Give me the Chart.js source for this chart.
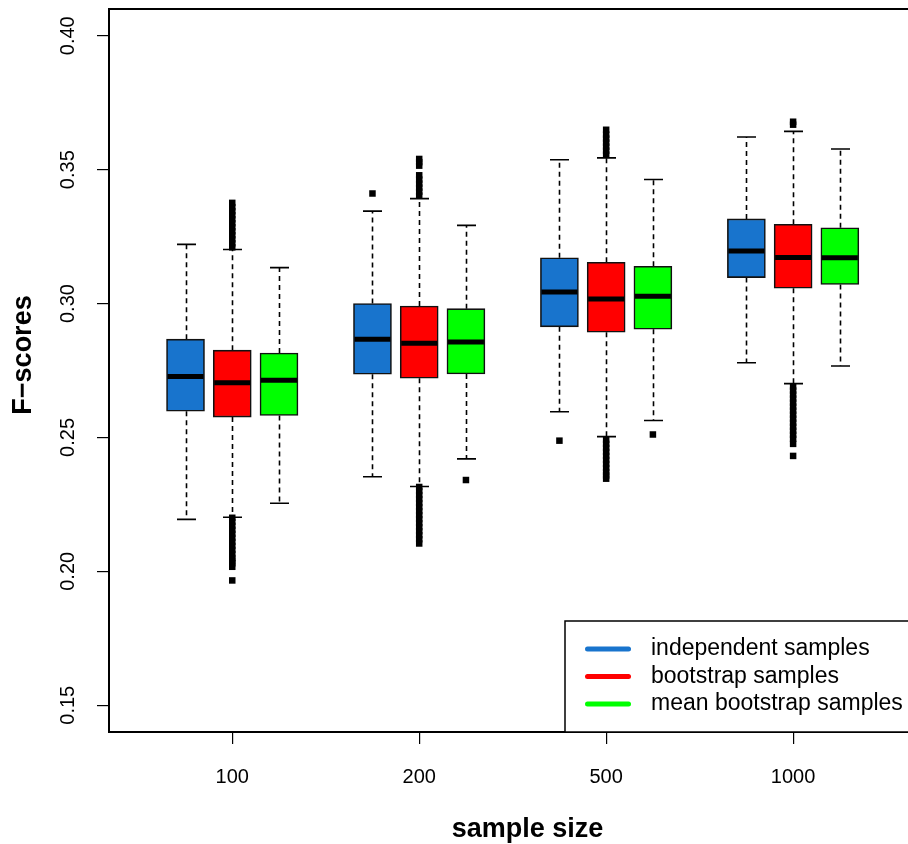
<!DOCTYPE html>
<html>
<head>
<meta charset="utf-8">
<script src="https://cdn.jsdelivr.net/npm/chart.js@4.4.1/dist/chart.umd.min.js"></script>
<style>
  html, body { margin: 0; padding: 0; background: #fff; overflow: hidden; }
  canvas { display: block; }
</style>
</head>
<body>
<canvas id="boxChart" width="954" height="844"></canvas>
<script>
const sampleSizes = ["100", "200", "500", "1000"];
const seriesNames = ["independent samples", "bootstrap samples", "mean bootstrap samples"];
const seriesColors = ["#1874CD", "#FF0000", "#00FF00"];

// x positions: three boxes per sample size, one empty slot between groups
const groupCenters = [2, 6, 10, 14];
const boxOffsets = [-1, 0, 1];
const yTicks = [0.15, 0.20, 0.25, 0.30, 0.35, 0.40];

// independent samples
const indLow = [0.2194, 0.2353, 0.2596, 0.2779];
const indQ1 = [0.2598, 0.2736, 0.2913, 0.3097];
const indMed = [0.2728, 0.2867, 0.3043, 0.3196];
const indQ3 = [0.2867, 0.3000, 0.3171, 0.3316];
const indHigh = [0.3221, 0.3345, 0.3537, 0.3622];
const indOut = [[], [0.3411], [0.2488], []];

// bootstrap samples
const bootLow = [0.2202, 0.2317, 0.2503, 0.2701];
const bootQ1 = [0.2576, 0.2721, 0.2893, 0.3057];
const bootMed = [0.2704, 0.2852, 0.3017, 0.3172];
const bootQ3 = [0.2826, 0.2991, 0.3154, 0.3296];
const bootHigh = [0.3202, 0.3392, 0.3544, 0.3643];
const bootOut = [
  [0.3210, 0.3225, 0.3240, 0.3255, 0.3270, 0.3285, 0.3300, 0.3315, 0.3330, 0.3345, 0.3360, 0.3376,
   0.2200, 0.2185, 0.2170, 0.2155, 0.2140, 0.2125, 0.2110, 0.2095, 0.2080, 0.2065, 0.2050, 0.2040,
   0.2030, 0.2017, 0.1966],
  [0.3403, 0.3418, 0.3433, 0.3448, 0.3463, 0.3479, 0.3515, 0.3528, 0.3540,
   0.2315, 0.2300, 0.2285, 0.2270, 0.2255, 0.2240, 0.2225, 0.2210, 0.2195, 0.2180, 0.2165, 0.2150,
   0.2135, 0.2120, 0.2104],
  [0.3556, 0.3571, 0.3586, 0.3601, 0.3616, 0.3631, 0.3649,
   0.2491, 0.2476, 0.2461, 0.2446, 0.2431, 0.2416, 0.2401, 0.2386, 0.2371, 0.2358, 0.2346],
  [0.3668, 0.3679,
   0.2690, 0.2675, 0.2660, 0.2645, 0.2630, 0.2615, 0.2600, 0.2585, 0.2570, 0.2555, 0.2540, 0.2525,
   0.2510, 0.2495, 0.2476, 0.2431]
];

// mean bootstrap samples
const meanLow = [0.2254, 0.2420, 0.2563, 0.2767];
const meanQ1 = [0.2582, 0.2737, 0.2904, 0.3071];
const meanMed = [0.2714, 0.2856, 0.3027, 0.3171];
const meanQ3 = [0.2815, 0.2981, 0.3139, 0.3283];
const meanHigh = [0.3134, 0.3292, 0.3463, 0.3577];
const meanOut = [[], [0.2341], [0.2511], []];

const stats = [
  { low: indLow, q1: indQ1, med: indMed, q3: indQ3, high: indHigh, out: indOut },
  { low: bootLow, q1: bootQ1, med: bootMed, q3: bootQ3, high: bootHigh, out: bootOut },
  { low: meanLow, q1: meanQ1, med: meanMed, q3: meanQ3, high: meanHigh, out: meanOut }
];

const FONT = '"Liberation Sans", Arial, Helvetica, sans-serif';
const BOX_W = 38;

const boxDatasets = stats.map((s, si) => ({
  type: "bar",
  label: seriesNames[si],
  data: groupCenters.map((c, i) => ({ x: c + boxOffsets[si], y: [s.q1[i], s.q3[i]] })),
  backgroundColor: seriesColors[si],
  borderColor: "#111",
  borderWidth: 1.6,
  borderSkipped: false,
  barThickness: BOX_W,
  grouped: false
}));

const outlierDatasets = stats.map((s, si) => ({
  type: "scatter",
  label: seriesNames[si] + " outliers",
  data: s.out.flatMap((vals, i) => vals.map(v => ({ x: groupCenters[i] + boxOffsets[si], y: v }))),
  pointStyle: "rect",
  radius: 4.6,
  backgroundColor: "#000",
  borderWidth: 0
}));

// whiskers, medians, frame, labels and legend
const boxParts = {
  id: "boxParts",
  beforeDatasetsDraw(chart) {
    const ctx = chart.ctx, y = chart.scales.y;
    ctx.save();
    ctx.strokeStyle = "#000";
    ctx.lineWidth = 1.6;
    stats.forEach((s, si) => {
      chart.getDatasetMeta(si).data.forEach((bar, i) => {
        const x = Math.round(bar.x) + 0.5;
        const yHi = y.getPixelForValue(s.high[i]), yLo = y.getPixelForValue(s.low[i]);
        ctx.setLineDash([5, 4]);
        ctx.beginPath();
        ctx.moveTo(x, y.getPixelForValue(s.q3[i]));
        ctx.lineTo(x, yHi);
        ctx.moveTo(x, y.getPixelForValue(s.q1[i]));
        ctx.lineTo(x, yLo);
        ctx.stroke();
        ctx.setLineDash([]);
        ctx.beginPath();
        ctx.moveTo(x - BOX_W / 4, yHi);
        ctx.lineTo(x + BOX_W / 4, yHi);
        ctx.moveTo(x - BOX_W / 4, yLo);
        ctx.lineTo(x + BOX_W / 4, yLo);
        ctx.stroke();
      });
    });
    ctx.restore();
  },
  afterDatasetsDraw(chart) {
    const ctx = chart.ctx, y = chart.scales.y;
    ctx.save();
    ctx.strokeStyle = "#000";
    ctx.lineWidth = 5;
    stats.forEach((s, si) => {
      chart.getDatasetMeta(si).data.forEach((bar, i) => {
        const ym = y.getPixelForValue(s.med[i]);
        ctx.beginPath();
        ctx.moveTo(bar.x - BOX_W / 2 + 1, ym);
        ctx.lineTo(bar.x + BOX_W / 2 - 1, ym);
        ctx.stroke();
      });
    });
    ctx.restore();
  },
  afterDraw(chart) {
    const ctx = chart.ctx, a = chart.chartArea, x = chart.scales.x, y = chart.scales.y;
    ctx.save();
    // frame
    ctx.strokeStyle = "#000";
    ctx.lineWidth = 2;
    ctx.strokeRect(a.left, a.top, a.right - a.left, a.bottom - a.top);

    // tick labels
    ctx.fillStyle = "#000";
    ctx.textAlign = "center";
    ctx.textBaseline = "middle";
    ctx.font = "20px " + FONT;
    groupCenters.forEach((c, i) => ctx.fillText(sampleSizes[i], x.getPixelForValue(c), 777));
    yTicks.forEach(v => {
      ctx.save();
      ctx.translate(68, y.getPixelForValue(v));
      ctx.rotate(-Math.PI / 2);
      ctx.fillText(v.toFixed(2), 0, 0);
      ctx.restore();
    });

    // axis titles
    ctx.font = "bold 27px " + FONT;
    ctx.fillText("sample size", (a.left + a.right) / 2, 830);
    ctx.save();
    ctx.translate(24, 355);
    ctx.rotate(-Math.PI / 2);
    ctx.fillText("F\u2212scores", 0, 0);
    ctx.restore();

    // legend
    const lx = 565, ly = 621;
    ctx.fillStyle = "#fff";
    ctx.fillRect(lx, ly, a.right - lx, a.bottom - ly);
    ctx.lineWidth = 1.5;
    ctx.strokeRect(lx, ly, a.right - lx, a.bottom - ly);
    ctx.font = "23px " + FONT;
    ctx.textAlign = "left";
    const rows = [649, 676.5, 704];
    seriesNames.forEach((name, si) => {
      ctx.strokeStyle = seriesColors[si];
      ctx.lineWidth = 5;
      ctx.lineCap = "round";
      ctx.beginPath();
      ctx.moveTo(587.5, rows[si]);
      ctx.lineTo(628.5, rows[si]);
      ctx.stroke();
      ctx.fillStyle = "#000";
      ctx.fillText(name, 651, rows[si]);
    });
    ctx.restore();
  }
};

new Chart(document.getElementById("boxChart"), {
  type: "bar",
  data: { datasets: [...boxDatasets, ...outlierDatasets] },
  options: {
    responsive: false,
    animation: false,
    events: [],
    layout: { padding: { top: 9, right: 8, left: 0, bottom: 0 } },
    plugins: { legend: { display: false }, tooltip: { enabled: false } },
    scales: {
      x: {
        type: "linear",
        min: -0.637,
        max: 17.271,
        offset: false,
        afterBuildTicks: s => { s.ticks = groupCenters.map(v => ({ value: v })); },
        afterFit: s => { s.height = 112; },
        ticks: { display: false },
        grid: { drawOnChartArea: false, drawTicks: true, tickLength: 12, color: "#000", lineWidth: 1.2, offset: false },
        border: { display: false }
      },
      y: {
        type: "linear",
        min: 0.14,
        max: 0.41,
        beginAtZero: false,
        afterBuildTicks: s => { s.ticks = yTicks.map(v => ({ value: v })); },
        afterFit: s => { s.width = 109; },
        ticks: { display: false },
        grid: { drawOnChartArea: false, drawTicks: true, tickLength: 12, color: "#000", lineWidth: 1.2 },
        border: { display: false }
      }
    }
  },
  plugins: [boxParts]
});
</script>
</body>
</html>
